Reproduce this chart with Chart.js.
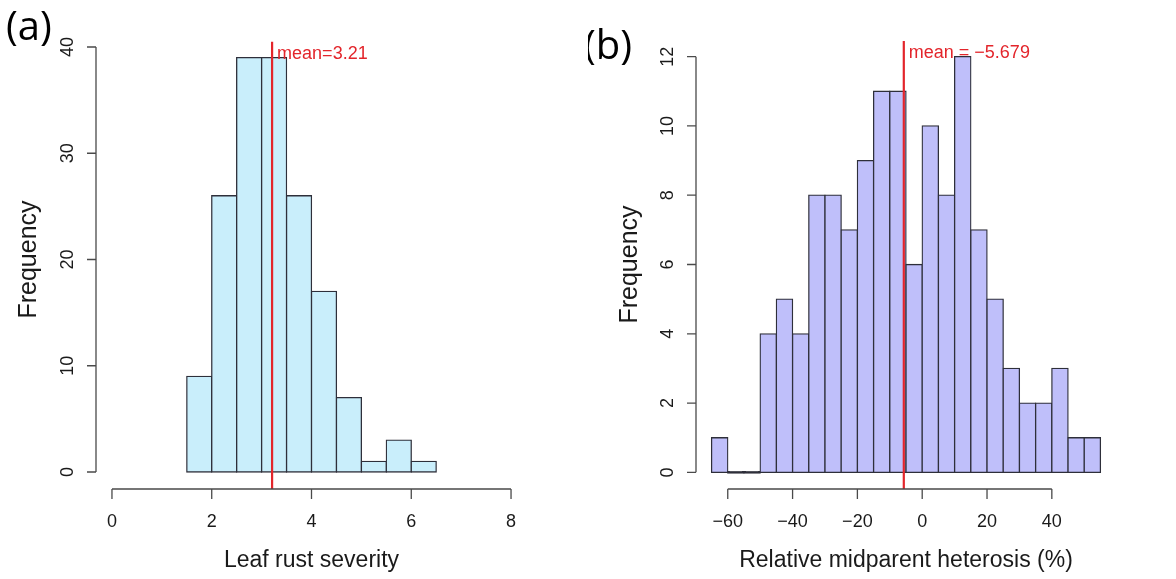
<!DOCTYPE html>
<html>
<head>
<meta charset="utf-8">
<script src="https://cdn.jsdelivr.net/npm/chart.js@4/dist/chart.umd.min.js"></script>
<style>
  body { margin: 0; background: #fff; }
  #wrap { position: relative; width: 1176px; height: 579px; }
  #wrap canvas { position: absolute; top: 0; }
</style>
</head>
<body>
<div id="wrap">
  <canvas id="chartA" width="588" height="579" style="left:0"></canvas>
  <canvas id="chartB" width="588" height="579" style="left:588px"></canvas>
</div>
<script>
// (a) leaf rust severity histogram
const binStartA = 1.5;
const binWidthA = 0.5;
const countsA = [9, 26, 39, 39, 26, 17, 7, 1, 3, 1];
const xRangeA = [0, 8];
const yRangeA = [0, 40];
const xTicksA = [0, 2, 4, 6, 8];
const yTicksA = [0, 10, 20, 30, 40];
const meanA = 3.21;
const meanLabelA = 'mean=3.21';

// (b) relative midparent heterosis histogram
const binStartB = -65;
const binWidthB = 5;
const countsB = [1, 0, 0, 4, 5, 4, 8, 8, 7, 9, 11, 11, 6, 10, 8, 12, 7, 5, 3, 2, 2, 3, 1, 1];
const xRangeB = [-65, 55];
const yRangeB = [0, 12];
const xTicksB = [-60, -40, -20, 0, 20, 40];
const yTicksB = [0, 2, 4, 6, 8, 10, 12];
const meanB = -5.679;
const meanLabelB = 'mean = \u22125.679';

const FONT = '"Liberation Sans", Arial, Helvetica, sans-serif';
const EDGE = '#2e2f3a';
const fmt = v => String(v).replace('-', '\u2212');

// R style axes: line only between first and last tick, labels parallel to axis
const rAxes = {
  id: 'rAxes',
  afterDraw(chart, args, o) {
    const { ctx, chartArea: a, scales: { x, y } } = chart;
    ctx.save();
    ctx.strokeStyle = '#4a4a4a';
    ctx.lineWidth = 1.3;
    ctx.fillStyle = '#1a1a1a';
    ctx.font = '18px ' + FONT;

    // x axis
    const xs = o.xTicks.map(v => x.getPixelForValue(v));
    ctx.beginPath();
    ctx.moveTo(xs[0], a.bottom);
    ctx.lineTo(xs[xs.length - 1], a.bottom);
    xs.forEach(px => { ctx.moveTo(px, a.bottom); ctx.lineTo(px, a.bottom + 10); });
    ctx.stroke();
    ctx.textAlign = 'center';
    ctx.textBaseline = 'alphabetic';
    o.xTicks.forEach((v, i) => ctx.fillText(fmt(v), xs[i], a.bottom + 38));

    // y axis
    const ys = o.yTicks.map(v => y.getPixelForValue(v));
    ctx.beginPath();
    ctx.moveTo(a.left, ys[0]);
    ctx.lineTo(a.left, ys[ys.length - 1]);
    ys.forEach(py => { ctx.moveTo(a.left, py); ctx.lineTo(a.left - 9, py); });
    ctx.stroke();
    o.yTicks.forEach((v, i) => {
      ctx.save();
      ctx.translate(a.left - 23, ys[i]);
      ctx.rotate(-Math.PI / 2);
      ctx.fillText(fmt(v), 0, 0);
      ctx.restore();
    });

    // panel letter
    ctx.font = '40px "Open Sans", ' + FONT;
    ctx.fillStyle = '#000';
    ctx.textAlign = 'left';
    ctx.fillText(o.panel, o.panelX, o.panelY);
    ctx.restore();
  }
};

// vertical mean line with its label
const meanLine = {
  id: 'meanLine',
  afterDatasetsDraw(chart, args, o) {
    const { ctx, chartArea: a, scales: { x, y } } = chart;
    const px = x.getPixelForValue(o.value);
    ctx.save();
    ctx.strokeStyle = '#e3252b';
    ctx.lineWidth = 2.2;
    ctx.beginPath();
    ctx.moveTo(px, y.getPixelForValue(o.top));
    ctx.lineTo(px, a.bottom);
    ctx.stroke();
    ctx.fillStyle = '#e3252b';
    ctx.font = '18px ' + FONT;
    ctx.textBaseline = 'alphabetic';
    ctx.textAlign = 'left';
    ctx.fillText(o.label, px + 5, y.getPixelForValue(o.labelY));
    ctx.restore();
  }
};

function histogram(id, p) {
  const pad = r => (r[1] - r[0]) * 0.04;
  const points = p.counts.map((c, i) => ({ x: p.start + (i + 0.5) * p.width, y: c }));
  return new Chart(document.getElementById(id), {
    type: 'bar',
    data: {
      datasets: [{
        data: points,
        // empty bins show only as a flat edge on the baseline
        backgroundColor: c => (c.raw && c.raw.y === 0 ? EDGE : p.fill),
        borderColor: EDGE,
        borderWidth: 1.3,
        borderSkipped: false,
        inflateAmount: 0.65,
        minBarLength: 1.4,
        barPercentage: 1,
        categoryPercentage: 1
      }]
    },
    options: {
      responsive: false,
      animation: false,
      devicePixelRatio: 1,
      layout: { padding: p.padding },
      plugins: {
        legend: { display: false },
        tooltip: { enabled: false },
        rAxes: { xTicks: p.xTicks, yTicks: p.yTicks, panel: p.panel, panelX: p.panelX, panelY: p.panelY },
        meanLine: { value: p.mean, top: p.meanTop, label: p.meanLabel, labelY: p.meanLabelY }
      },
      scales: {
        x: {
          type: 'linear',
          offset: false,
          min: p.xRange[0] - pad(p.xRange),
          max: p.xRange[1] + pad(p.xRange),
          grid: { display: false, offset: false },
          border: { display: false },
          ticks: { display: false },
          title: { display: true, text: p.xTitle, color: '#1a1a1a', font: { family: FONT, size: 23 }, padding: { top: 0, bottom: 5 } },
          afterFit: s => { s.height = 90; }
        },
        y: {
          min: p.yRange[0] - pad(p.yRange),
          max: p.yRange[1] + pad(p.yRange),
          grid: { display: false },
          border: { display: false },
          ticks: { display: false },
          title: { display: true, text: 'Frequency', color: '#1a1a1a', font: { family: FONT, size: 25 }, padding: { top: p.yTitlePad, bottom: 0 } },
          afterFit: s => { s.width = p.yWidth; }
        }
      }
    },
    plugins: [rAxes, meanLine]
  });
}

histogram('chartA', {
  start: binStartA, width: binWidthA, counts: countsA,
  xRange: xRangeA, yRange: yRangeA, xTicks: xTicksA, yTicks: yTicksA,
  mean: meanA, meanTop: 40.5, meanLabel: meanLabelA, meanLabelY: 38.9,
  fill: '#c9eefb', xTitle: 'Leaf rust severity',
  panel: '(a)', panelX: 6, panelY: 40,
  padding: { left: 0, top: 30, right: 61, bottom: 0 }, yWidth: 96, yTitlePad: 14
});

histogram('chartB', {
  start: binStartB, width: binWidthB, counts: countsB,
  xRange: xRangeB, yRange: yRangeB, xTicks: xTicksB, yTicks: yTicksB,
  mean: meanB, meanTop: 12.45, meanLabel: meanLabelB, meanLabelY: 11.97,
  fill: '#bfbffa', xTitle: 'Relative midparent heterosis (%)',
  panel: '(b)', panelX: -4, panelY: 59,
  padding: { left: 0, top: 40, right: 60, bottom: 0 }, yWidth: 108, yTitlePad: 27
});
</script>
</body>
</html>
